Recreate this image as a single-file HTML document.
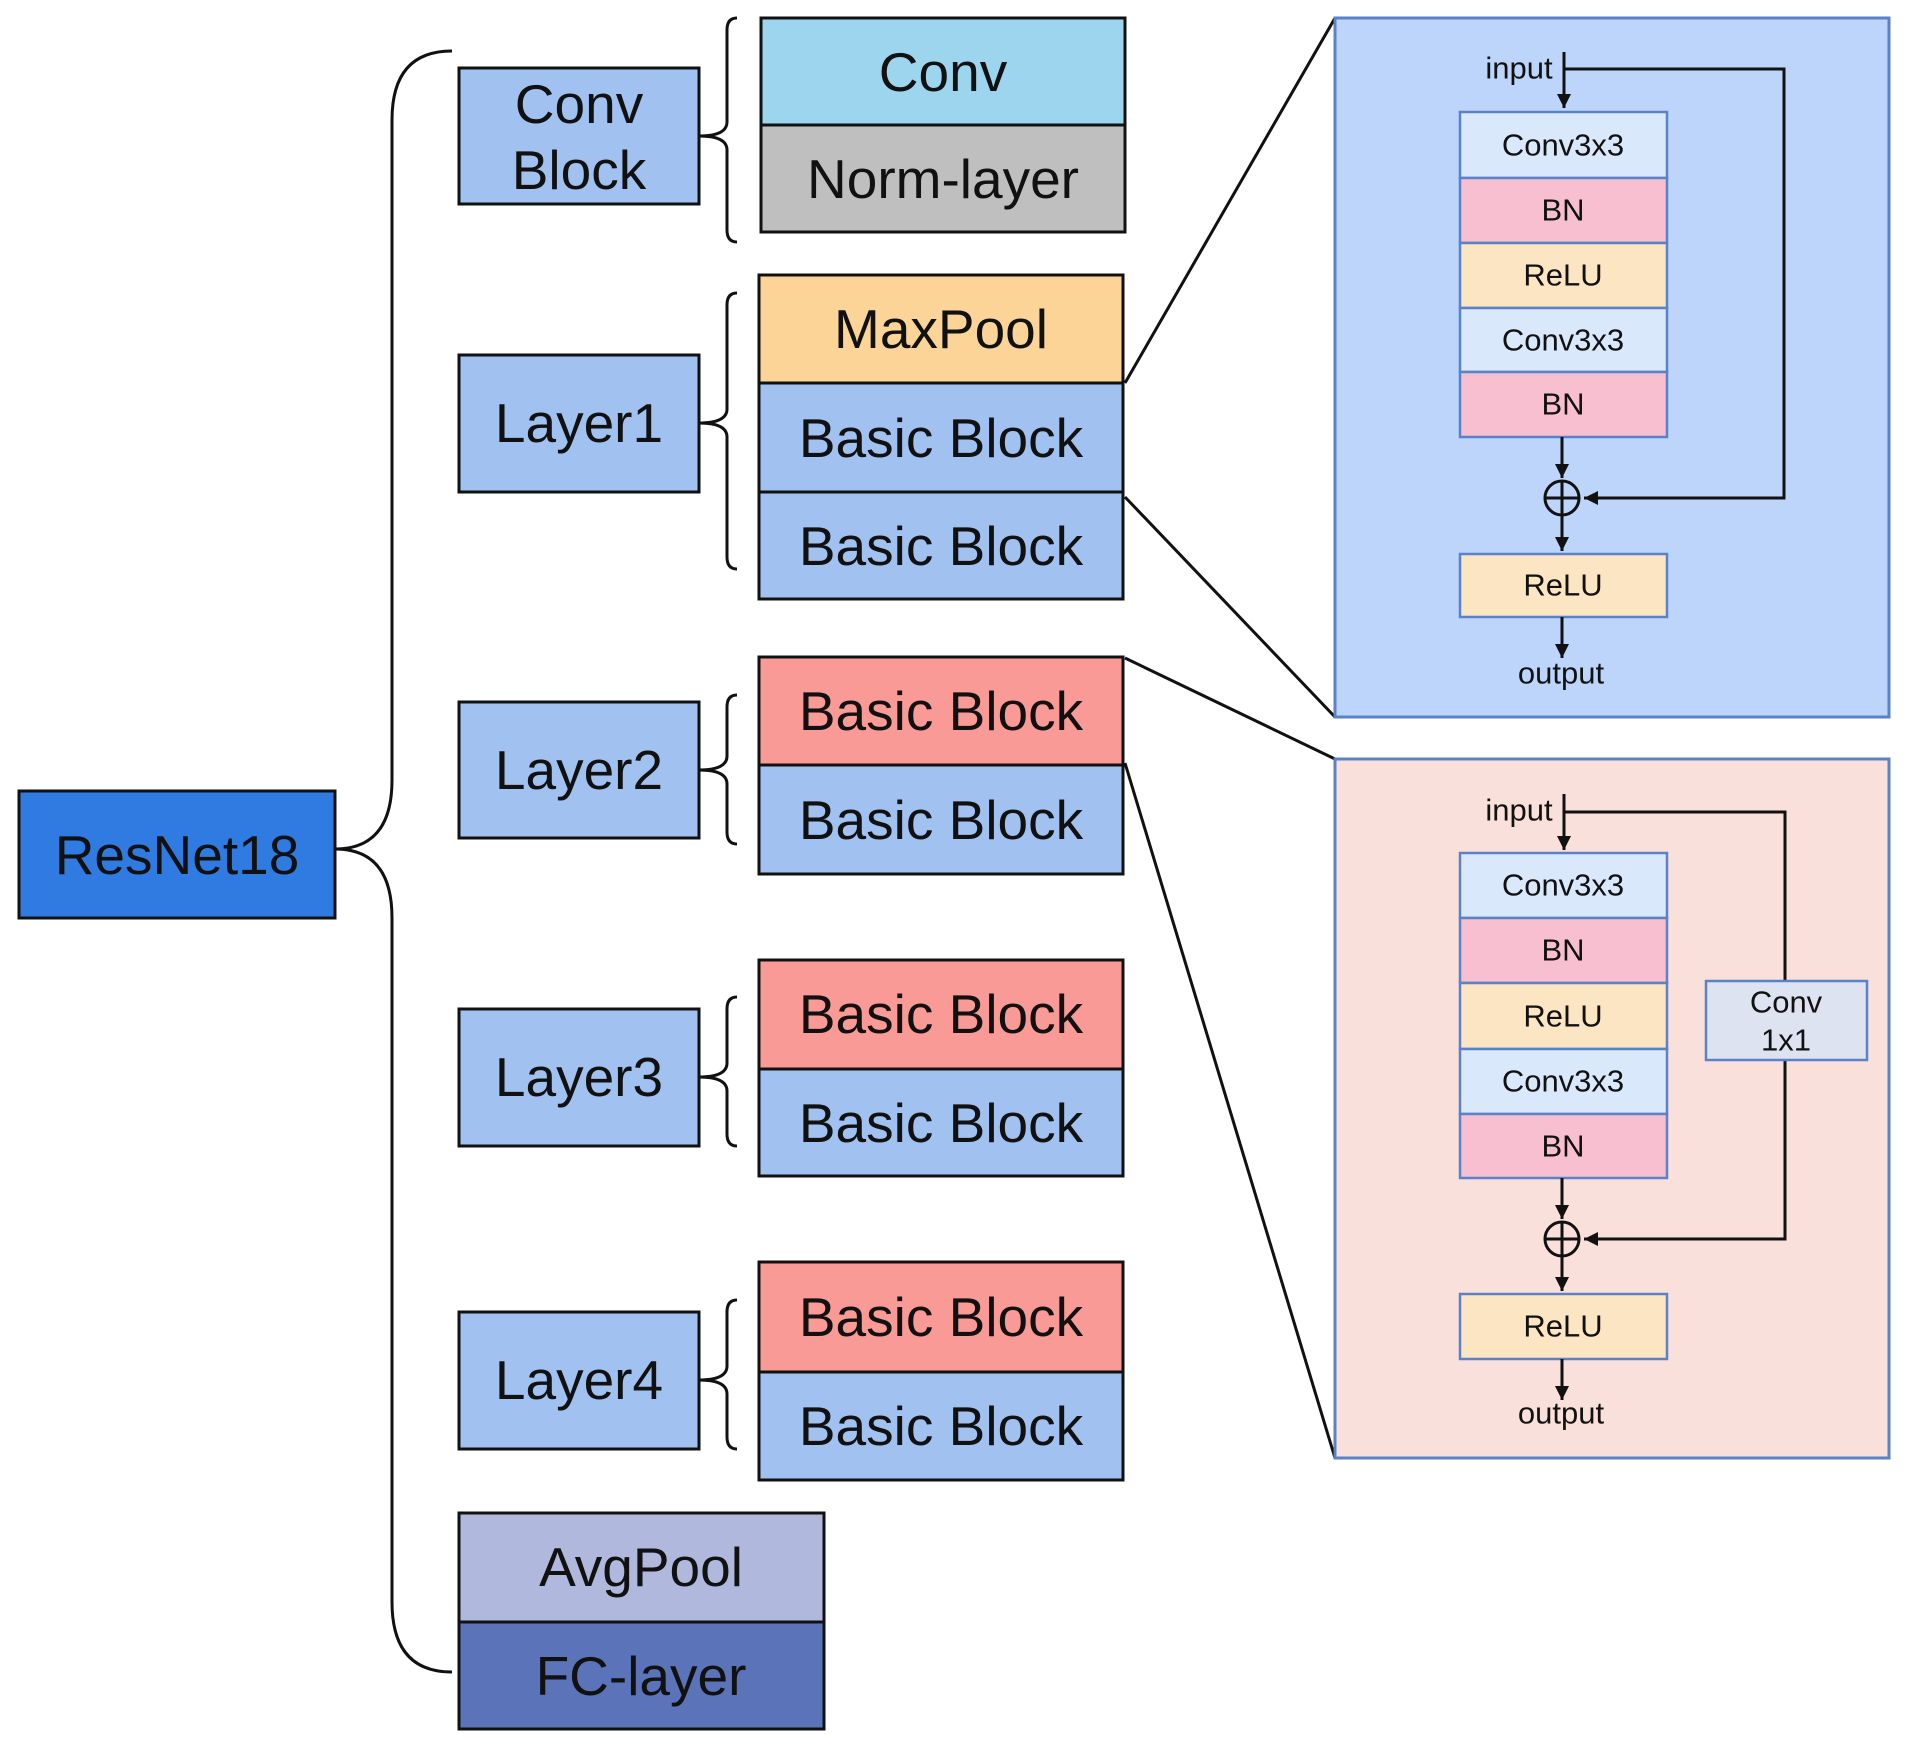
<!DOCTYPE html>
<html><head><meta charset="utf-8"><style>
html,body{margin:0;padding:0;background:#fff;}
svg{display:block;}
text{font-family:"Liberation Sans",sans-serif;fill:#111;text-anchor:middle;dominant-baseline:central;}
.big{font-size:55px;}
.sm{font-size:31px;}
.bx{stroke:#111;stroke-width:3;}
.ib{stroke:#5a82c8;stroke-width:2.5;}
.ln{stroke:#111;stroke-width:3;fill:none;}
</style></head><body>
<svg width="1908" height="1748" viewBox="0 0 1908 1748" xmlns="http://www.w3.org/2000/svg">
<defs>
<marker id="b" viewBox="0 0 10 10" markerWidth="14" markerHeight="14" refX="10" refY="5" orient="auto" markerUnits="userSpaceOnUse"><path d="M0,0 L10,5 L0,10 z" fill="#111"/></marker></defs>

<path class="ln" d="M452,51 Q392,51 392,120 L392,780 Q392,849 335,849 Q392,849 392,918 L392,1602 Q392,1672 452,1672"/>

<rect class="bx" x="19" y="791" width="316" height="127" fill="#2f7be1"/>
<text class="big" x="177" y="855">ResNet18</text>

<rect class="bx" x="459" y="68" width="240" height="136" fill="#a1c1f1"/>
<text class="big" x="579" y="104">Conv</text><text class="big" x="579" y="170">Block</text>
<rect class="bx" x="761" y="18" width="364" height="107" fill="#9dd4ee"/><text class="big" x="943" y="72">Conv</text>
<rect class="bx" x="761" y="125" width="364" height="107" fill="#bfbfbf"/><text class="big" x="943" y="179">Norm-layer</text>
<path class="ln" d="M737,18 Q727,18 727,30 L727,122 Q727,136 699,136 Q727,136 727,150 L727,230 Q727,242 737,242"/>

<rect class="bx" x="459" y="355" width="240" height="137" fill="#a1c1f1"/><text class="big" x="579" y="423">Layer1</text>
<rect class="bx" x="759" y="275" width="364" height="108" fill="#fdd497"/><text class="big" x="941" y="329">MaxPool</text>
<rect class="bx" x="759" y="383" width="364" height="109" fill="#a1c1f1"/><text class="big" x="941" y="438">Basic Block</text>
<rect class="bx" x="759" y="492" width="364" height="107" fill="#a1c1f1"/><text class="big" x="941" y="546">Basic Block</text>
<path class="ln" d="M737,293 Q727,293 727,305 L727,409 Q727,423 699,423 Q727,423 727,437 L727,557 Q727,569 737,569"/>

<rect class="bx" x="459" y="702" width="240" height="136" fill="#a1c1f1"/><text class="big" x="579" y="770">Layer2</text>
<rect class="bx" x="759" y="657" width="364" height="108" fill="#f99a96"/><text class="big" x="941" y="711">Basic Block</text>
<rect class="bx" x="759" y="765" width="364" height="109" fill="#a1c1f1"/><text class="big" x="941" y="820">Basic Block</text>
<path class="ln" d="M737,695 Q727,695 727,707 L727,756 Q727,770 699,770 Q727,770 727,784 L727,832 Q727,844 737,844"/>

<rect class="bx" x="459" y="1009" width="240" height="137" fill="#a1c1f1"/><text class="big" x="579" y="1077">Layer3</text>
<rect class="bx" x="759" y="960" width="364" height="109" fill="#f99a96"/><text class="big" x="941" y="1014">Basic Block</text>
<rect class="bx" x="759" y="1069" width="364" height="107" fill="#a1c1f1"/><text class="big" x="941" y="1123">Basic Block</text>
<path class="ln" d="M737,997 Q727,997 727,1009 L727,1063 Q727,1077 699,1077 Q727,1077 727,1091 L727,1134 Q727,1146 737,1146"/>

<rect class="bx" x="459" y="1312" width="240" height="137" fill="#a1c1f1"/><text class="big" x="579" y="1380">Layer4</text>
<rect class="bx" x="759" y="1262" width="364" height="110" fill="#f99a96"/><text class="big" x="941" y="1317">Basic Block</text>
<rect class="bx" x="759" y="1372" width="364" height="108" fill="#a1c1f1"/><text class="big" x="941" y="1426">Basic Block</text>
<path class="ln" d="M737,1300 Q727,1300 727,1312 L727,1366 Q727,1380 699,1380 Q727,1380 727,1394 L727,1437 Q727,1449 737,1449"/>

<rect class="bx" x="459" y="1513" width="365" height="109" fill="#b0b9dd"/><text class="big" x="641" y="1567">AvgPool</text>
<rect class="bx" x="459" y="1622" width="365" height="107" fill="#5b73b9"/><text class="big" x="641" y="1676">FC-layer</text>

<line class="ln" x1="1125" y1="383" x2="1335" y2="18"/>
<line class="ln" x1="1125" y1="497" x2="1335" y2="717"/>
<line class="ln" x1="1125" y1="658" x2="1335" y2="759"/>
<line class="ln" x1="1125" y1="763" x2="1335" y2="1458"/>

<rect x="1335" y="18" width="554" height="699" fill="#bdd5fa" stroke="#5a82c8" stroke-width="3"/>
<text class="sm" x="1519" y="68">input</text>
<path class="ln" d="M1564,52 L1564,108" marker-end="url(#b)"/>
<path class="ln" d="M1564,69 L1784,69 L1784,498 L1584,498" marker-end="url(#b)"/>
<rect class="ib" x="1460" y="112" width="207" height="66" fill="#dae8fc"/><text class="sm" x="1563" y="145">Conv3x3</text>
<rect class="ib" x="1460" y="178" width="207" height="65" fill="#f8bfd0"/><text class="sm" x="1563" y="210">BN</text>
<rect class="ib" x="1460" y="243" width="207" height="65" fill="#fce5c2"/><text class="sm" x="1563" y="275">ReLU</text>
<rect class="ib" x="1460" y="308" width="207" height="64" fill="#dae8fc"/><text class="sm" x="1563" y="340">Conv3x3</text>
<rect class="ib" x="1460" y="372" width="207" height="65" fill="#f8bfd0"/><text class="sm" x="1563" y="404">BN</text>
<path class="ln" d="M1562,437 L1562,478" marker-end="url(#b)"/>
<circle cx="1562" cy="498" r="17" fill="none" stroke="#111" stroke-width="3"/>
<line class="ln" x1="1545" y1="498" x2="1579" y2="498"/>
<path class="ln" d="M1562,481 L1562,551" marker-end="url(#b)"/>
<rect class="ib" x="1460" y="554" width="207" height="63" fill="#fce5c2"/><text class="sm" x="1563" y="585">ReLU</text>
<path class="ln" d="M1562,617 L1562,658" marker-end="url(#b)"/>
<text class="sm" x="1561" y="673">output</text>

<rect x="1335" y="759" width="554" height="699" fill="#fae0da" stroke="#5a82c8" stroke-width="3"/>
<text class="sm" x="1519" y="810">input</text>
<path class="ln" d="M1564,794 L1564,850" marker-end="url(#b)"/>
<path class="ln" d="M1564,812 L1785,812 L1785,981"/>
<path class="ln" d="M1785,1060 L1785,1239 L1584,1239" marker-end="url(#b)"/>
<rect class="ib" x="1706" y="981" width="161" height="79" fill="#dde3f1"/>
<text class="sm" x="1786" y="1002">Conv</text><text class="sm" x="1786" y="1040">1x1</text>
<rect class="ib" x="1460" y="853" width="207" height="65" fill="#dae8fc"/><text class="sm" x="1563" y="885">Conv3x3</text>
<rect class="ib" x="1460" y="918" width="207" height="65" fill="#f8bfd0"/><text class="sm" x="1563" y="950">BN</text>
<rect class="ib" x="1460" y="983" width="207" height="66" fill="#fce5c2"/><text class="sm" x="1563" y="1016">ReLU</text>
<rect class="ib" x="1460" y="1049" width="207" height="65" fill="#dae8fc"/><text class="sm" x="1563" y="1081">Conv3x3</text>
<rect class="ib" x="1460" y="1114" width="207" height="64" fill="#f8bfd0"/><text class="sm" x="1563" y="1146">BN</text>
<path class="ln" d="M1562,1178 L1562,1219" marker-end="url(#b)"/>
<circle cx="1562" cy="1239" r="17" fill="none" stroke="#111" stroke-width="3"/>
<line class="ln" x1="1545" y1="1239" x2="1579" y2="1239"/>
<path class="ln" d="M1562,1222 L1562,1291" marker-end="url(#b)"/>
<rect class="ib" x="1460" y="1294" width="207" height="65" fill="#fce5c2"/><text class="sm" x="1563" y="1326">ReLU</text>
<path class="ln" d="M1562,1359 L1562,1400" marker-end="url(#b)"/>
<text class="sm" x="1561" y="1413">output</text>
</svg>
</body></html>
